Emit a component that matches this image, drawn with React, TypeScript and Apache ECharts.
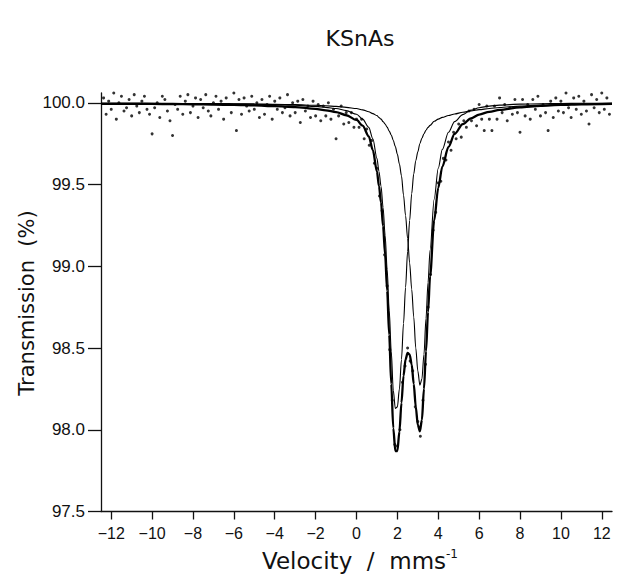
import React, { useEffect, useRef } from "react";
import * as echarts from "echarts";

const chartTitle = "KSnAs";
const xAxisName = "Velocity  /  mms";
const xAxisNameSup = "-1";
const yAxisName = "Transmission  (%)";

const xTicks = [-12, -10, -8, -6, -4, -2, 0, 2, 4, 6, 8, 10, 12];
const yTicks = [97.5, 98.0, 98.5, 99.0, 99.5, 100.0];

// velocity grid of the fitted curves (mm/s)
const fitX = [
  -12.5, -11, -10, -9, -8, -7, -6, -5, -4, -3,
  -2, -1.5, -1, -0.5, 0, 0.3, 0.6, 0.8, 1.0, 1.1,
  1.2, 1.3, 1.4, 1.5, 1.6, 1.7, 1.8, 1.9, 2.0, 2.1,
  2.2, 2.3, 2.4, 2.5, 2.6, 2.7, 2.8, 2.9, 3.0, 3.1,
  3.2, 3.3, 3.4, 3.5, 3.6, 3.8, 4.0, 4.2, 4.5, 4.8,
  5.2, 5.6, 6, 6.5, 7, 8, 9, 10, 11, 12.5,
];

// total fit (thick line), transmission %
const fitTotal = [
  99.994, 99.994, 99.993, 99.992, 99.991, 99.989, 99.987, 99.984, 99.98, 99.974,
  99.963, 99.954, 99.943, 99.924, 99.895, 99.86, 99.795, 99.71, 99.58, 99.49,
  99.39, 99.245, 99.07, 98.85, 98.58, 98.28, 98.01, 97.87, 97.87, 97.99,
  98.165, 98.33, 98.43, 98.47, 98.46, 98.4, 98.28, 98.14, 98.03, 97.99,
  98.06, 98.25, 98.48, 98.72, 98.94, 99.28, 99.48, 99.61, 99.73, 99.81,
  99.87, 99.905, 99.928, 99.945, 99.957, 99.972, 99.981, 99.987, 99.991, 99.994,
];

// sub-spectrum 1 (thin line)
const fitSite1 = [
  99.997, 99.9965, 99.996, 99.9955, 99.995, 99.994, 99.993, 99.991, 99.989, 99.985,
  99.978, 99.972, 99.965, 99.952, 99.93, 99.9, 99.85, 99.78, 99.66, 99.58,
  99.49, 99.36, 99.19, 98.98, 98.73, 98.48, 98.24, 98.13, 98.14, 98.25,
  98.43, 98.65, 98.87, 99.09, 99.28, 99.444, 99.565, 99.646, 99.7, 99.75,
  99.783, 99.811, 99.832, 99.85, 99.862, 99.887, 99.9, 99.911, 99.922, 99.932,
  99.942, 99.95, 99.958, 99.965, 99.971, 99.98, 99.986, 99.99, 99.992, 99.995,
];

// sub-spectrum 2 (thin line)
const fitSite2 = [
  99.9974, 99.997, 99.9967, 99.9965, 99.9958, 99.9952, 99.9943, 99.9932, 99.9912, 99.989,
  99.985, 99.982, 99.978, 99.972, 99.965, 99.957, 99.945, 99.934, 99.922, 99.91,
  99.9, 99.885, 99.87, 99.851, 99.827, 99.803, 99.77, 99.732, 99.685, 99.625,
  99.554, 99.436, 99.31, 99.17, 99.02, 98.86, 98.69, 98.5, 98.36, 98.273,
  98.31, 98.46, 98.68, 98.9, 99.1, 99.41, 99.6, 99.715, 99.82, 99.885,
  99.928, 99.955, 99.97, 99.98, 99.986, 99.992, 99.994, 99.996, 99.997, 99.998,
];

// measured spectrum points [velocity, transmission]
const spectrum: [number, number][] = [
  [-12.375, 100.03], [-12.25, 99.93], [-12.125, 100.01], [-12, 99.96], [-11.875, 100.06], [-11.75, 99.9], [-11.625, 100], [-11.5, 100.04], [-11.375, 99.95], [-11.25, 99.97],
  [-11.125, 100.02], [-11, 99.92], [-10.875, 100.05], [-10.75, 99.98], [-10.625, 99.94], [-10.5, 100.01], [-10.375, 100.04], [-10.25, 99.96], [-10.125, 99.93], [-10, 99.81],
  [-9.875, 99.97], [-9.75, 100], [-9.625, 99.91], [-9.5, 100.04], [-9.375, 100.02], [-9.25, 99.95], [-9.125, 99.89], [-9, 99.8], [-8.875, 99.99], [-8.75, 99.96],
  [-8.625, 100.04], [-8.5, 99.93], [-8.375, 100.01], [-8.25, 100.05], [-8.125, 99.94], [-8, 99.98], [-7.875, 100.03], [-7.75, 99.91], [-7.625, 100.02], [-7.5, 99.97],
  [-7.375, 100.05], [-7.25, 99.95], [-7.125, 99.92], [-7, 100], [-6.875, 100.04], [-6.75, 99.96], [-6.625, 100.01], [-6.5, 99.9], [-6.375, 100.03], [-6.25, 99.99],
  [-6.125, 99.94], [-6, 100.06], [-5.875, 99.83], [-5.75, 100.02], [-5.625, 99.93], [-5.5, 100.03], [-5.375, 99.98], [-5.25, 99.95], [-5.125, 100.04], [-5, 99.96],
  [-4.875, 100], [-4.75, 99.91], [-4.625, 100.02], [-4.5, 99.93], [-4.375, 99.99], [-4.25, 100.04], [-4.125, 99.9], [-4, 100.01], [-3.875, 99.96], [-3.75, 100.03],
  [-3.625, 99.94], [-3.5, 99.97], [-3.375, 100.05], [-3.25, 99.92], [-3.125, 100], [-3, 99.94], [-2.875, 100.01], [-2.75, 99.88], [-2.625, 100.02], [-2.5, 99.95],
  [-2.375, 99.98], [-2.25, 99.91], [-2.125, 100.01], [-2, 99.92], [-1.875, 99.99], [-1.75, 99.89], [-1.625, 99.98], [-1.5, 99.92], [-1.375, 100], [-1.25, 99.9],
  [-1.125, 99.96], [-1, 99.78], [-0.875, 99.92], [-0.75, 99.98], [-0.625, 99.87], [-0.5, 99.94], [-0.375, 99.88], [-0.25, 99.94], [-0.125, 99.85], [0, 99.9],
  [0.125, 99.85], [0.25, 99.9], [0.375, 99.78], [0.5, 99.84], [0.625, 99.74], [0.75, 99.77], [0.875, 99.63], [1, 99.6], [1.125, 99.43], [1.25, 99.34],
  [1.375, 99.07], [1.5, 98.88], [1.625, 98.49], [1.75, 98.18], [1.875, 97.91], [2, 97.9], [2.125, 98], [2.25, 98.29], [2.375, 98.39], [2.5, 98.5],
  [2.625, 98.42], [2.75, 98.36], [2.875, 98.14], [3, 98.05], [3.125, 97.96], [3.25, 98.18], [3.375, 98.4], [3.5, 98.75], [3.625, 98.95], [3.75, 99.22],
  [3.875, 99.33], [4, 99.51], [4.125, 99.52], [4.25, 99.66], [4.375, 99.65], [4.5, 99.76], [4.625, 99.71], [4.75, 99.82], [4.875, 99.78], [5, 99.87],
  [5.125, 99.79], [5.25, 99.89], [5.375, 99.85], [5.5, 99.95], [5.625, 99.89], [5.75, 99.96], [5.875, 99.86], [6, 99.99], [6.125, 99.9], [6.25, 99.83],
  [6.375, 99.98], [6.5, 99.9], [6.625, 99.83], [6.75, 99.98], [6.875, 99.9], [7, 100.03], [7.125, 99.94], [7.25, 99.99], [7.375, 99.89], [7.5, 99.97],
  [7.625, 99.93], [7.75, 100.02], [7.875, 99.94], [8, 99.82], [8.125, 100.02], [8.25, 99.92], [8.375, 99.99], [8.5, 99.9], [8.625, 100.02], [8.75, 99.96],
  [8.875, 100.04], [9, 99.92], [9.125, 99.99], [9.25, 99.94], [9.375, 99.83], [9.5, 100.01], [9.625, 99.91], [9.75, 100.03], [9.875, 99.95], [10, 100.01],
  [10.125, 99.94], [10.25, 100.06], [10.375, 99.97], [10.5, 99.91], [10.625, 100.03], [10.75, 99.96], [10.875, 100.04], [11, 99.93], [11.125, 100.01], [11.25, 99.95],
  [11.375, 99.87], [11.5, 100.05], [11.625, 99.97], [11.75, 100.02], [11.875, 99.94], [12, 100.06], [12.125, 99.96], [12.25, 100.03], [12.375, 99.93],
];

const INK = "#111";
const WIDE_FONT = "'DejaVu Sans', sans-serif";
const TICK_FONT = "'Liberation Sans', Arial, sans-serif";

export default function App() {
  const ref = useRef<HTMLDivElement>(null);

  useEffect(() => {
    if (!ref.current) return;
    const chart = echarts.init(ref.current, null, { renderer: "svg" });
    const pairs = (ys: number[]) => fitX.map((x, i) => [x, ys[i]]);

    chart.setOption({
      animation: false,
      backgroundColor: "#ffffff",
      grid: { left: 101, right: 9, top: 93, bottom: 67.5 },
      xAxis: {
        type: "value",
        min: -12.5,
        max: 12.5,
        splitLine: { show: false },
        axisLine: { show: true, onZero: false, lineStyle: { color: INK, width: 1.3 } },
        axisTick: {
          show: true,
          length: 8,
          customValues: xTicks,
          lineStyle: { color: INK, width: 1.3 },
        },
        axisLabel: {
          customValues: xTicks,
          margin: 14,
          color: INK,
          fontSize: 16,
          fontFamily: TICK_FONT,
          formatter: (v: number) => (v < 0 ? "\u2212" + Math.abs(v) : String(v)),
        },
      },
      yAxis: {
        type: "value",
        min: 97.5,
        max: 100.06,
        splitLine: { show: false },
        axisLine: { show: true, onZero: false, lineStyle: { color: INK, width: 1.3 } },
        axisTick: {
          show: true,
          length: 13,
          customValues: yTicks,
          lineStyle: { color: INK, width: 1.3 },
        },
        axisLabel: {
          customValues: yTicks,
          margin: 16,
          color: INK,
          fontSize: 17,
          fontFamily: TICK_FONT,
          formatter: (v: number) => v.toFixed(1),
        },
      },
      graphic: [
        {
          type: "text",
          x: 360,
          y: 38,
          style: {
            text: chartTitle,
            fill: INK,
            font: `22px ${WIDE_FONT}`,
            align: "center",
            verticalAlign: "middle",
          },
        },
        {
          type: "text",
          x: 27,
          y: 303,
          rotation: Math.PI / 2,
          style: {
            text: yAxisName,
            fill: INK,
            font: `21px ${WIDE_FONT}`,
            align: "center",
            verticalAlign: "middle",
          },
        },
        {
          type: "text",
          x: 360,
          y: 561,
          style: {
            text: `{a|${xAxisName}}{b|${xAxisNameSup}}`,
            align: "center",
            verticalAlign: "middle",
            rich: {
              a: { fontSize: 23, fontFamily: WIDE_FONT, fill: INK, lineHeight: 27 },
              b: { fontSize: 12, fontFamily: WIDE_FONT, fill: INK, verticalAlign: "top", lineHeight: 14 },
            },
          },
        },
      ],
      series: [
        {
          type: "line",
          name: "site 1",
          data: pairs(fitSite1),
          showSymbol: false,
          smooth: 0.3,
          smoothMonotone: "x",
          lineStyle: { color: "#000", width: 1.1 },
          z: 2,
        },
        {
          type: "line",
          name: "site 2",
          data: pairs(fitSite2),
          showSymbol: false,
          smooth: 0.3,
          smoothMonotone: "x",
          lineStyle: { color: "#000", width: 1.1 },
          z: 2,
        },
        {
          type: "line",
          name: "total",
          data: pairs(fitTotal),
          showSymbol: false,
          smooth: 0.3,
          smoothMonotone: "x",
          lineStyle: { color: "#000", width: 2.3 },
          z: 3,
        },
        {
          type: "scatter",
          name: "spectrum",
          data: spectrum,
          symbol: "circle",
          symbolSize: 3,
          itemStyle: { color: "#000" },
          z: 4,
        },
      ],
    });

    return () => chart.dispose();
  }, []);

  return (
    <div
      ref={ref}
      style={{ position: "fixed", left: 0, top: 0, width: 621, height: 579, background: "#fff" }}
    />
  );
}
